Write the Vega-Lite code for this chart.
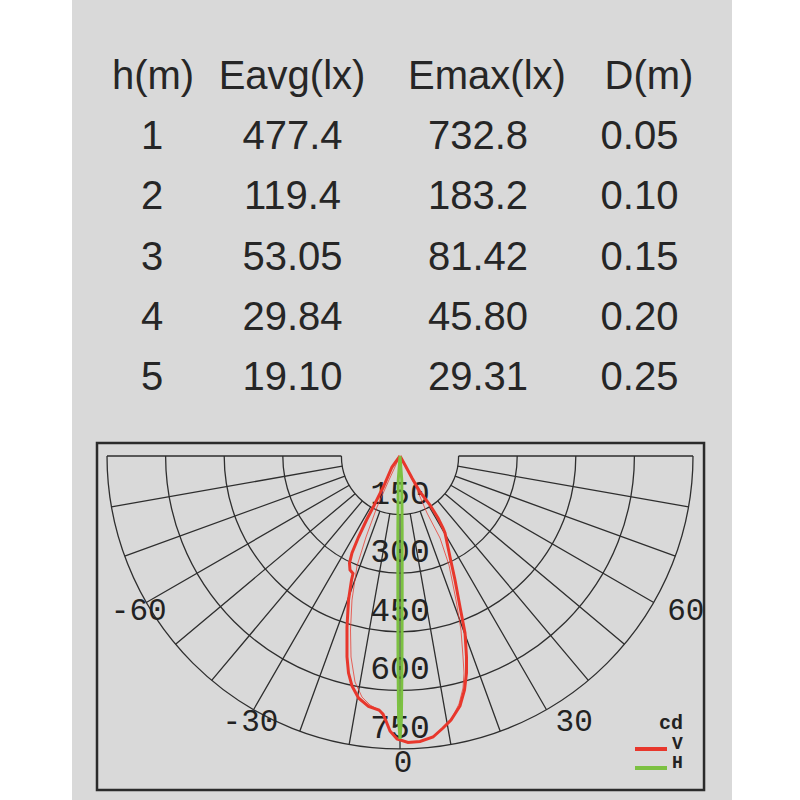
{
  "$schema": "https://vega.github.io/schema/vega-lite/v6.json",
  "width": 660,
  "height": 800,
  "autosize": {"type": "none"},
  "padding": {"left": 72, "right": 68, "top": 0, "bottom": 0},
  "background": "#ffffff",
  "config": {"view": {"fill": "#d9d9d9", "stroke": null}, "axis": {"disable": true}},
  "datasets": {
    "header": [
      {"row": 0, "col": 1, "t": "h(m)"},
      {"row": 0, "col": 2, "t": "Eavg(lx)"},
      {"row": 0, "col": 3, "t": "Emax(lx)"},
      {"row": 0, "col": 4, "t": "D(m)"}
    ],
    "cells": [
      {"row": 1, "col": 1, "t": "1"}, {"row": 1, "col": 2, "t": "477.4"}, {"row": 1, "col": 3, "t": "732.8"}, {"row": 1, "col": 4, "t": "0.05"},
      {"row": 2, "col": 1, "t": "2"}, {"row": 2, "col": 2, "t": "119.4"}, {"row": 2, "col": 3, "t": "183.2"}, {"row": 2, "col": 4, "t": "0.10"},
      {"row": 3, "col": 1, "t": "3"}, {"row": 3, "col": 2, "t": "53.05"}, {"row": 3, "col": 3, "t": "81.42"}, {"row": 3, "col": 4, "t": "0.15"},
      {"row": 4, "col": 1, "t": "4"}, {"row": 4, "col": 2, "t": "29.84"}, {"row": 4, "col": 3, "t": "45.80"}, {"row": 4, "col": 4, "t": "0.20"},
      {"row": 5, "col": 1, "t": "5"}, {"row": 5, "col": 2, "t": "19.10"}, {"row": 5, "col": 3, "t": "29.31"}, {"row": 5, "col": 4, "t": "0.25"}
    ],
    "rings": [{"cd": 150}, {"cd": 300}, {"cd": 450}, {"cd": 600}, {"cd": 750}],
    "rays": [
      {"ang": -90}, {"ang": -80}, {"ang": -70}, {"ang": -60}, {"ang": -50}, {"ang": -40}, {"ang": -30}, {"ang": -20}, {"ang": -10},
      {"ang": 0}, {"ang": 10}, {"ang": 20}, {"ang": 30}, {"ang": 40}, {"ang": 50}, {"ang": 60}, {"ang": 70}, {"ang": 80}, {"ang": 90}
    ],
    "anglabNeg": [{"ang": -60, "lab": "-60"}, {"ang": -30, "lab": "-30"}, {"ang": 0, "lab": "0"}],
    "anglabPos": [{"ang": 30, "lab": "30"}, {"ang": 60, "lab": "60"}],
    "v2": [
      {"i": 0, "x_cd": 0, "y_cd": 0}, {"i": 1, "x_cd": -28.2, "y_cd": 61.4}, {"i": 2, "x_cd": -58.9, "y_cd": 130.5},
      {"i": 3, "x_cd": -87.0, "y_cd": 207.3}, {"i": 4, "x_cd": -110.1, "y_cd": 281.6}, {"i": 5, "x_cd": -122.9, "y_cd": 368.6},
      {"i": 6, "x_cd": -126.7, "y_cd": 445.4}, {"i": 7, "x_cd": -125.4, "y_cd": 514.5}, {"i": 8, "x_cd": -115.2, "y_cd": 578.5},
      {"i": 9, "x_cd": -97.3, "y_cd": 616.9}, {"i": 10, "x_cd": -76.8, "y_cd": 637.4}, {"i": 11, "x_cd": -53.8, "y_cd": 650.2},
      {"i": 12, "x_cd": -35.8, "y_cd": 678.3}, {"i": 13, "x_cd": -25.6, "y_cd": 703.9}, {"i": 14, "x_cd": -7.7, "y_cd": 724.4},
      {"i": 15, "x_cd": 20.5, "y_cd": 733.4}, {"i": 16, "x_cd": 51.2, "y_cd": 730.8}, {"i": 17, "x_cd": 84.5, "y_cd": 719.3},
      {"i": 18, "x_cd": 110.1, "y_cd": 696.2}, {"i": 19, "x_cd": 130.5, "y_cd": 675.8}, {"i": 20, "x_cd": 151.0, "y_cd": 634.9},
      {"i": 21, "x_cd": 161.3, "y_cd": 593.9}, {"i": 22, "x_cd": 163.8, "y_cd": 555.5}, {"i": 23, "x_cd": 161.3, "y_cd": 514.5},
      {"i": 24, "x_cd": 156.1, "y_cd": 445.4}, {"i": 25, "x_cd": 143.3, "y_cd": 368.6}, {"i": 26, "x_cd": 125.4, "y_cd": 279.0},
      {"i": 27, "x_cd": 102.4, "y_cd": 209.9}, {"i": 28, "x_cd": 69.1, "y_cd": 145.9}, {"i": 29, "x_cd": 38.4, "y_cd": 74.2},
      {"i": 30, "x_cd": 0, "y_cd": 0}
    ],
    "curves": [
      {"series": "V", "i": 0, "x_cd": 0, "y_cd": 0}, {"series": "V", "i": 1, "x_cd": -20.5, "y_cd": 28.2},
      {"series": "V", "i": 2, "x_cd": -42.2, "y_cd": 78.1}, {"series": "V", "i": 3, "x_cd": -67.8, "y_cd": 129.3},
      {"series": "V", "i": 4, "x_cd": -85.7, "y_cd": 163.8}, {"series": "V", "i": 5, "x_cd": -106.2, "y_cd": 207.3},
      {"series": "V", "i": 6, "x_cd": -122.9, "y_cd": 248.3}, {"series": "V", "i": 7, "x_cd": -129.3, "y_cd": 273.9},
      {"series": "V", "i": 8, "x_cd": -128.0, "y_cd": 291.8}, {"series": "V", "i": 9, "x_cd": -120.3, "y_cd": 300.8},
      {"series": "V", "i": 10, "x_cd": -124.1, "y_cd": 317.4}, {"series": "V", "i": 11, "x_cd": -131.8, "y_cd": 368.6},
      {"series": "V", "i": 12, "x_cd": -135.7, "y_cd": 437.7}, {"series": "V", "i": 13, "x_cd": -135.7, "y_cd": 514.5},
      {"series": "V", "i": 14, "x_cd": -131.8, "y_cd": 555.5}, {"series": "V", "i": 15, "x_cd": -122.9, "y_cd": 588.7},
      {"series": "V", "i": 16, "x_cd": -106.2, "y_cd": 619.4}, {"series": "V", "i": 17, "x_cd": -80.6, "y_cd": 641.2},
      {"series": "V", "i": 18, "x_cd": -53.8, "y_cd": 650.2}, {"series": "V", "i": 19, "x_cd": -43.5, "y_cd": 660.4},
      {"series": "V", "i": 20, "x_cd": -35.8, "y_cd": 678.3}, {"series": "V", "i": 21, "x_cd": -25.6, "y_cd": 703.9},
      {"series": "V", "i": 22, "x_cd": -7.7, "y_cd": 724.4}, {"series": "V", "i": 23, "x_cd": 20.5, "y_cd": 733.4},
      {"series": "V", "i": 24, "x_cd": 51.2, "y_cd": 730.8}, {"series": "V", "i": 25, "x_cd": 84.5, "y_cd": 719.3},
      {"series": "V", "i": 26, "x_cd": 110.1, "y_cd": 696.2}, {"series": "V", "i": 27, "x_cd": 130.5, "y_cd": 675.8},
      {"series": "V", "i": 28, "x_cd": 153.6, "y_cd": 639.9}, {"series": "V", "i": 29, "x_cd": 165.1, "y_cd": 599.0},
      {"series": "V", "i": 30, "x_cd": 170.2, "y_cd": 555.5}, {"series": "V", "i": 31, "x_cd": 170.2, "y_cd": 514.5},
      {"series": "V", "i": 32, "x_cd": 166.4, "y_cd": 453.1}, {"series": "V", "i": 33, "x_cd": 153.6, "y_cd": 386.5},
      {"series": "V", "i": 34, "x_cd": 140.8, "y_cd": 317.4}, {"series": "V", "i": 35, "x_cd": 128.0, "y_cd": 258.5},
      {"series": "V", "i": 36, "x_cd": 115.2, "y_cd": 197.1}, {"series": "V", "i": 37, "x_cd": 110.1, "y_cd": 184.3},
      {"series": "V", "i": 38, "x_cd": 97.3, "y_cd": 158.7}, {"series": "V", "i": 39, "x_cd": 76.8, "y_cd": 125.4},
      {"series": "V", "i": 40, "x_cd": 51.2, "y_cd": 92.2}, {"series": "V", "i": 41, "x_cd": 30.7, "y_cd": 56.3},
      {"series": "V", "i": 42, "x_cd": 12.8, "y_cd": 23.0}, {"series": "V", "i": 43, "x_cd": 0, "y_cd": 0},
      {"series": "H", "i": 0, "x_cd": 0, "y_cd": 0}, {"series": "H", "i": 1, "x_cd": -4.5, "y_cd": 61.4},
      {"series": "H", "i": 2, "x_cd": -5.5, "y_cd": 189.4}, {"series": "H", "i": 3, "x_cd": -5.5, "y_cd": 368.6},
      {"series": "H", "i": 4, "x_cd": -5.0, "y_cd": 547.8}, {"series": "H", "i": 5, "x_cd": -3.5, "y_cd": 675.8},
      {"series": "H", "i": 6, "x_cd": 0, "y_cd": 724.4}, {"series": "H", "i": 7, "x_cd": 3.5, "y_cd": 675.8},
      {"series": "H", "i": 8, "x_cd": 5.0, "y_cd": 547.8}, {"series": "H", "i": 9, "x_cd": 5.5, "y_cd": 368.6},
      {"series": "H", "i": 10, "x_cd": 5.5, "y_cd": 189.4}, {"series": "H", "i": 11, "x_cd": 4.5, "y_cd": 61.4},
      {"series": "H", "i": 12, "x_cd": 0, "y_cd": 0}
    ]
  },
  "layer": [
    {
      "data": {"name": "header"},
      "mark": {"type": "text", "font": "Liberation Sans", "fontSize": 40, "color": "#262626", "align": "center", "baseline": "alphabetic"},
      "encoding": {
        "x": {"field": "col", "type": "quantitative", "axis": null, "scale": {"domain": [1, 2, 3, 4], "range": [81, 220, 415, 577], "nice": false, "zero": false}},
        "y": {"field": "row", "type": "quantitative", "axis": null, "scale": {"domain": [0, 5], "range": [89, 390], "nice": false, "zero": false}},
        "text": {"field": "t", "type": "nominal"}
      }
    },
    {
      "data": {"name": "cells"},
      "mark": {"type": "text", "font": "Liberation Sans", "fontSize": 40, "color": "#262626", "align": "center", "baseline": "alphabetic"},
      "encoding": {
        "x": {"field": "col", "type": "quantitative", "axis": null, "scale": {"domain": [1, 2, 3, 4], "range": [80, 220.5, 406, 567.5], "nice": false, "zero": false}},
        "y": {"field": "row", "type": "quantitative", "axis": null, "scale": {"domain": [0, 5], "range": [89, 390], "nice": false, "zero": false}},
        "text": {"field": "t", "type": "nominal"}
      }
    },
    {
      "layer": [
        {
          "data": {"values": [{}]},
          "mark": {"type": "rect", "filled": false, "color": "#2b2b2b", "strokeWidth": 2.5},
          "encoding": {
            "x": {"datum": -775.6, "type": "quantitative", "axis": null, "scale": {"domain": [-839.6, 849.8], "nice": false, "zero": false}},
            "x2": {"datum": 778.2},
            "y": {"datum": -33.3, "type": "quantitative", "axis": null, "scale": {"domain": [-1167.2, 880.5], "reverse": true, "nice": false, "zero": false}},
            "y2": {"datum": 855.0}
          }
        },
        {
          "data": {"name": "rings"},
          "mark": {"type": "arc", "filled": false, "color": "#2e2e2e", "strokeWidth": 1.3},
          "encoding": {
            "x": {"datum": 0, "type": "quantitative", "axis": null, "scale": {"domain": [-839.6, 849.8], "nice": false, "zero": false}},
            "y": {"datum": 0, "type": "quantitative", "axis": null, "scale": {"domain": [-1167.2, 880.5], "reverse": true, "nice": false, "zero": false}},
            "theta": {"datum": -90, "type": "quantitative", "scale": {"type": "linear", "domain": [-90, 90], "range": [4.71238898, 1.57079633]}},
            "theta2": {"datum": 90},
            "radius": {"field": "cd", "type": "quantitative", "scale": {"type": "linear", "domain": [0, 750], "range": [0, 293], "zero": true, "nice": false}},
            "radius2": {"field": "cd"}
          }
        },
        {
          "data": {"name": "rays"},
          "mark": {"type": "arc", "filled": false, "color": "#2e2e2e", "strokeWidth": 1.3},
          "encoding": {
            "x": {"datum": 0, "type": "quantitative", "axis": null},
            "y": {"datum": 0, "type": "quantitative", "axis": null},
            "theta": {"field": "ang", "type": "quantitative", "stack": null},
            "theta2": {"field": "ang"},
            "radius": {"datum": 750, "type": "quantitative"},
            "radius2": {"datum": 150}
          }
        },
        {
          "data": {"name": "rings"},
          "mark": {"type": "text", "font": "Liberation Mono", "fontSize": 33, "color": "#222222", "align": "center", "baseline": "alphabetic", "dy": -11},
          "encoding": {
            "x": {"datum": 0, "type": "quantitative", "axis": null},
            "y": {"datum": 0, "type": "quantitative", "axis": null},
            "theta": {"datum": 0, "type": "quantitative"},
            "radius": {"field": "cd", "type": "quantitative"},
            "text": {"field": "cd", "type": "quantitative"}
          }
        },
        {
          "data": {"name": "anglabNeg"},
          "mark": {"type": "text", "font": "Liberation Mono", "fontSize": 31, "color": "#222222", "align": "center", "baseline": "middle", "dx": 3, "dy": 2},
          "encoding": {
            "x": {"datum": 0, "type": "quantitative", "axis": null},
            "y": {"datum": 0, "type": "quantitative", "axis": null},
            "theta": {"field": "ang", "type": "quantitative"},
            "radius": {"datum": 781, "type": "quantitative"},
            "text": {"field": "lab", "type": "nominal"}
          }
        },
        {
          "data": {"name": "anglabPos"},
          "mark": {"type": "text", "font": "Liberation Mono", "fontSize": 31, "color": "#222222", "align": "left", "baseline": "middle", "dx": 3, "dy": 2},
          "encoding": {
            "x": {"datum": 0, "type": "quantitative", "axis": null},
            "y": {"datum": 0, "type": "quantitative", "axis": null},
            "theta": {"field": "ang", "type": "quantitative"},
            "radius": {"datum": 781, "type": "quantitative"},
            "text": {"field": "lab", "type": "nominal"}
          }
        },
        {
          "data": {"name": "v2"},
          "mark": {"type": "line", "color": "#e8372c", "strokeWidth": 1, "opacity": 0.75},
          "encoding": {
            "x": {"field": "x_cd", "type": "quantitative", "axis": null},
            "y": {"field": "y_cd", "type": "quantitative", "axis": null},
            "order": {"field": "i", "type": "quantitative"}
          }
        },
        {
          "data": {"name": "curves"},
          "mark": {"type": "line", "strokeWidth": 3},
          "encoding": {
            "x": {"field": "x_cd", "type": "quantitative", "axis": null},
            "y": {"field": "y_cd", "type": "quantitative", "axis": null},
            "order": {"field": "i", "type": "quantitative"},
            "color": {
              "field": "series",
              "type": "nominal",
              "scale": {"domain": ["V", "H"], "range": ["#e8372c", "#7cc142"]},
              "legend": {
                "title": "cd",
                "orient": "none",
                "legendX": 570,
                "legendY": 713,
                "padding": 0,
                "symbolType": "M-3.2,0H3.2",
                "symbolSize": 100,
                "symbolStrokeWidth": 4,
                "labelFont": "Liberation Mono",
                "labelFontWeight": "bold",
                "labelFontSize": 18,
                "labelColor": "#222222",
                "labelOffset": 12,
                "labelBaseline": "alphabetic",
                "titleFont": "Liberation Mono",
                "titleFontWeight": "bold",
                "titleFontSize": 20,
                "titleColor": "#222222",
                "titleAnchor": "end",
                "titlePadding": 7,
                "rowPadding": -3
              }
            }
          }
        }
      ]
    }
  ],
  "resolve": {"scale": {"x": "independent", "y": "independent"}}
}
